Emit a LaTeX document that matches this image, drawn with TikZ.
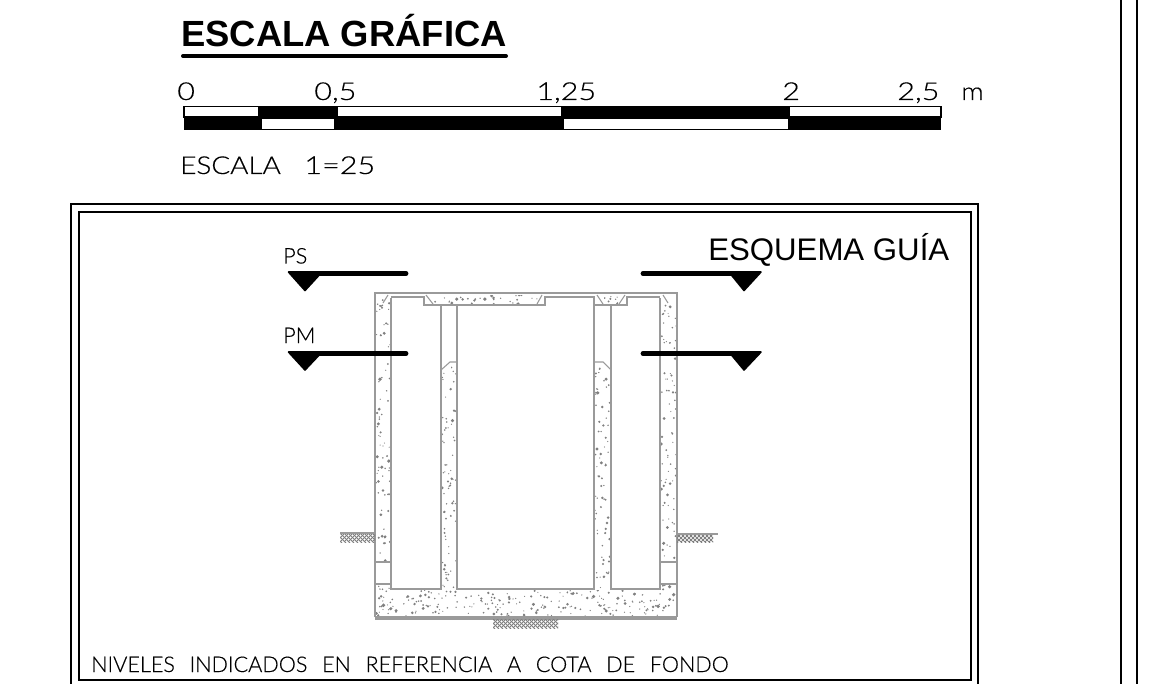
\documentclass[tikz,border=0pt]{standalone}
\usepackage{fontspec}
\setmainfont{Liberation Sans}
\newfontfamily\cadfont[UprightFont=* Light,UprightFeatures={FakeBold=0.35}]{Lato}
\newfontfamily\cadnum[UprightFont=* Light,UprightFeatures={FakeBold=0.35,FakeStretch=1.24}]{Lato}
\newfontfamily\cadwide[UprightFont=* Light,UprightFeatures={FakeBold=0.35,FakeStretch=1.13}]{Lato}
\usetikzlibrary{calc}
\definecolor{wallgray}{HTML}{9A9A9A}
\definecolor{dotgray}{HTML}{808080}
\tikzset{
  framelinea/.style={line width=1.5pt,black},
  wall/.style={line width=1.2pt,wallgray},
  thinwall/.style={line width=0.8pt,wallgray},
  level/.style={line width=3.6pt,black,line cap=round},
  marker/.style={fill=black,draw=black,line width=1.2pt,line join=round},
  cad/.style={inner sep=0pt,font=\cadnum\fontsize{18.5}{18}\selectfont,anchor=base west},
  cadword/.style={inner sep=0pt,font=\cadwide\fontsize{18.5}{18}\selectfont,anchor=base west},
  cadsmall/.style={inner sep=0pt,font=\cadfont\fontsize{16.2}{16}\selectfont,anchor=base west},
  barwhite/.style={fill=white,draw=black,line width=1pt},
}
% random concrete specks in a rectangle
\newcommand{\speckle}[5]{%
  \begin{scope}
    \clip (#1,#2) rectangle (#3,#4);
    \foreach \k in {1,...,#5}{%
      \pgfmathsetmacro{\px}{#1+rnd*(#3-#1)}%
      \pgfmathsetmacro{\py}{#2+rnd*(#4-#2)}%
      \pgfmathsetmacro{\pr}{0.6+rnd*rnd*1.4}%
      \fill[dotgray] (\px,\py) circle[radius=\pr];
    }
  \end{scope}}
% ground hatch
\newcommand{\groundhatch}[4]{%
  \begin{scope}
    \clip (#1,#2) rectangle (#3,#4);
    \foreach \u in {-12,-8,...,80}{%
      \draw[line width=0.7pt,dotgray] (#1+\u,#4) -- ++(10,-10);
      \draw[line width=0.7pt,dotgray] (#1+\u,#2) -- ++(10,10);
    }
  \end{scope}}
\begin{document}
\begin{tikzpicture}[x=0.75pt,y=-0.75pt]
\useasboundingbox (0,0) rectangle (1166,684);
\fill[white] (0,0) rectangle (1166,684);
\pgfmathsetseed{4242}

% title
\node[inner sep=0pt,anchor=base west,font=\bfseries\fontsize{27.3}{27}\selectfont] (title) at (181,47) {ESCALA GRÁFICA};
\draw[line width=3pt,line cap=round] (183,56) -- (506,56);

% scale bar
\draw[barwhite] (184,106.5) rectangle (259,117);
\fill[black] (259,106) rectangle (337,118);
\draw[barwhite] (337,106.5) rectangle (562,117);
\fill[black] (562,106) rectangle (789,118);
\draw[barwhite] (789,106.5) rectangle (941,117);
\fill[black] (184,117) rectangle (261,130);
\draw[barwhite,line width=0.8pt] (261,118) rectangle (335,129.5);
\fill[black] (335,117) rectangle (563,130);
\draw[barwhite,line width=0.8pt] (563,118) rectangle (789,129.5);
\fill[black] (789,117) rectangle (941,130);

\node[cad] (t0) at (177,100) {0};
\node[cad] (t05) at (314,100) {0,5};
\node[cad] (t125) at (536,100) {1,25};
\node[cad] (t2) at (782,100) {2};
\node[cad] (t25) at (897,100) {2,5};
\node[cadword] (tm) at (961,100) {m};
\node[cadword] (tesc) at (180,174) {ESCALA};
\node[cad] (tesb) at (304,174) {1=25};

% frames
\draw[framelinea] (71,684) -- (71,204) -- (978,204) -- (978,684);
\draw[framelinea] (79,212) rectangle (970.5,680);
\draw[line width=0.9pt] (1121,0) -- (1121,684);
\draw[line width=1.5pt] (1136.5,0) -- (1136.5,684);

\node[inner sep=0pt,anchor=base west,font=\fontsize{23.4}{24}\selectfont] (guia) at (708,260) {ESQUEMA GUÍA};
\node[cadsmall] (ps) at (283,263.5) {PS};
\node[cadsmall] (pm) at (283,343) {PM};
\node[cadsmall] (niv) at (91,672) {NIVELES\hspace{11pt}INDICADOS\hspace{11pt}EN\hspace{11pt}REFERENCIA\hspace{11pt}A\hspace{11pt}COTA\hspace{11pt}DE\hspace{11pt}FONDO};

% concrete specks
\speckle{376}{299}{390}{562}{80}
\speckle{376}{585}{390}{590}{4}
\speckle{661}{299}{676}{562}{80}
\speckle{661}{585}{676}{590}{4}
\speckle{442}{372}{456}{590}{70}
\speckle{595}{372}{610}{590}{70}
\speckle{451}{364}{456}{372}{2}
\speckle{596}{364}{601}{372}{2}
\speckle{376}{590}{676}{616}{230}
\speckle{434}{295}{538}{304}{30}
\speckle{604}{295}{618}{304}{7}

% walls
\draw[wall] (375,562) -- (375,293) -- (677,293) -- (677,562);
\draw[wall] (375,584) -- (375,617);
\draw[wall] (677,584) -- (677,617);
\draw[wall] (391,298) -- (391,589) -- (441,589) -- (441,305);
\draw[wall] (457,305) -- (457,589) -- (594,589) -- (594,305);
\draw[wall] (611,305) -- (611,589) -- (660,589) -- (660,298);
\draw[wall] (375,562) rectangle (391,584);
\draw[wall] (660,562) rectangle (677,584);
\draw[line width=2.4pt,wallgray] (375,618) -- (677,618);
% lid
\draw[wall] (391,297) -- (424,297) -- (424,305) -- (545,305) -- (545,297) -- (594,297) -- (594,305) -- (627,305) -- (627,297) -- (660,297);
\draw[thinwall] (426,295) -- (433,304);
\draw[thinwall] (542,295) -- (537,304);
\draw[thinwall] (597,295) -- (603,304);
\draw[thinwall] (625,295) -- (619,304);
\draw[thinwall] (388,295) -- (383,303);
\draw[thinwall] (663,295) -- (668,303);
% mid wall chamfers
\draw[thinwall] (441,370) -- (450,362) -- (457,362);
\draw[thinwall] (594,362) -- (603,362) -- (611,370);

% ground
\groundhatch{340}{533}{375}{542}
\groundhatch{677}{534}{713}{542}
\groundhatch{493}{619}{558}{628}
\draw[thinwall] (340,533) -- (375,533);
\draw[thinwall] (677,534) -- (718,534);

% level markers
\draw[level] (300,273.5) -- (406,273.5);
\draw[level] (300,353.5) -- (406,353.5);
\draw[level] (643,273.5) -- (750,273.5);
\draw[level] (643,353.5) -- (750,353.5);
\filldraw[marker] (288.5,272) -- (322,272) -- (305,290.5) -- cycle;
\filldraw[marker] (288.5,352) -- (322,352) -- (305,370) -- cycle;
\filldraw[marker] (729,272) -- (761,272) -- (744,290.5) -- cycle;
\filldraw[marker] (729,352) -- (761,352) -- (744,370) -- cycle;
\end{tikzpicture}
\end{document}
